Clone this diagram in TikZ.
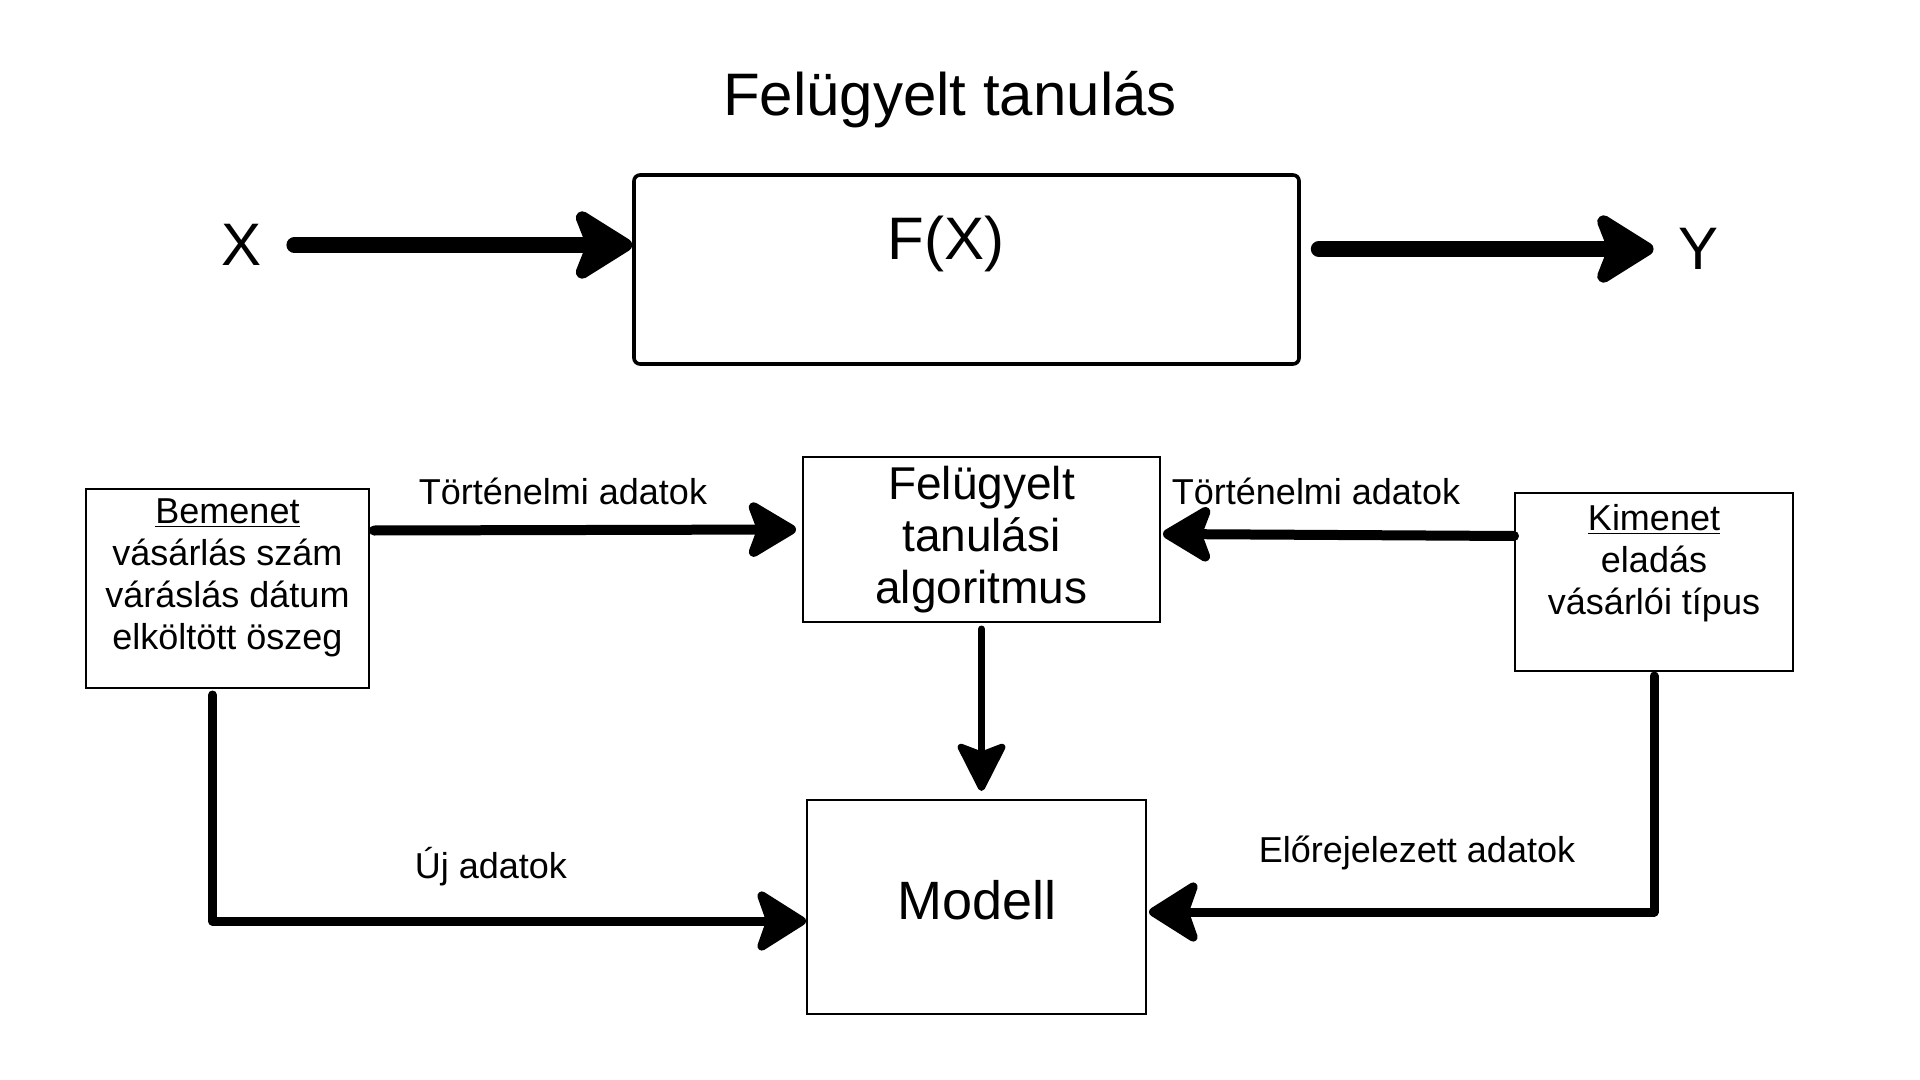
\documentclass[tikz,border=0pt]{standalone}
\usepackage{fontspec}
\setmainfont{Liberation Sans}
\usetikzlibrary{arrows.meta,calc}
\begin{document}
\begin{tikzpicture}[x=0.5pt,y=-0.5pt,
  box/.style={draw, line width=1pt, inner sep=0pt},
  big/.style={inner sep=0pt, font=\fontsize{30}{36}\selectfont},
  txt/.style={inner sep=0pt, align=center, font=\fontsize{18}{20.8}\selectfont},
  lbl/.style={inner sep=0pt, font=\fontsize{18}{21}\selectfont},
  bigarrow/.style={line width=8pt, line cap=round, -{Stealth[round, length=34pt, width=42pt, inset=8pt]}},
  midarrow/.style={line width=5pt, line cap=round, -{Stealth[round, length=28pt, width=33pt, inset=6pt]}},
  elbarrow/.style={line width=4.5pt, line cap=round, line join=round, -{Stealth[round, length=28pt, width=35pt, inset=6pt]}},
  vertarrow/.style={line width=3.5pt, line cap=round, -{Stealth[round, length=27pt, width=27pt, inset=5pt]}}
]
\fill[white] (0,0) rectangle (1920,1080);
\useasboundingbox (0,0) rectangle (1920,1080);

% top part
\node[big] (title) at (950,100) {Felügyelt tanulás};
\node[draw, line width=1.8pt, rounded corners=3pt, minimum width=332.5pt, minimum height=94.5pt, inner sep=0pt] (fbox) at (966.5,269.5) {};
\node[big] (fx) at (946,244) {F(X)};
\node[big] (xin) at (242,245) {X};
\node[big] (yout) at (1698,249) {Y};

\draw[bigarrow] ([xshift=16pt]xin.east) -- (fbox.west |- xin) ;
\draw[bigarrow, shorten >=12pt] ([xshift=9pt]fbox.east |- yout) -- (yout.west);

% bottom part
\node[box, minimum width=141.5pt, minimum height=99.5pt] (bem) at (227.5,588.5) {};
\node[txt, font=\fontsize{18}{21}\selectfont] (bemt) at (227.5,578) {\underline{Bemenet}\\vásárlás szám\\váráslás dátum\\elköltött öszeg};

\node[box, minimum width=178.5pt, minimum height=82.5pt, align=center, font=\fontsize{23}{26}\selectfont] (fel) at (981.5,539.5) {Felügyelt\\tanulási\\algoritmus};

\node[box, minimum width=139pt, minimum height=89pt] (kim) at (1654,582) {};
\node[txt, font=\fontsize{18}{21}\selectfont] (kimt) at (1654,563) {\underline{Kimenet}\\eladás\\vásárlói típus};

\node[box, minimum width=169.5pt, minimum height=107pt] (mod) at (976.5,907) {};
\node[inner sep=0pt, font=\fontsize{27}{32}\selectfont] (modt) at (977,900) {Modell};

\node[lbl] (l1) at (563,491) {Történelmi adatok};
\node[lbl] (l2) at (1316,491) {Történelmi adatok};
\node[lbl] (l3) at (491,867) {Új adatok};
\node[lbl] (l4) at (1417,853) {Előrejelezett adatok};

\draw[midarrow] ([xshift=2pt,yshift=29pt]bem.east) -- ([yshift=5pt,xshift=-3pt]fel.west);
\draw[midarrow] ([yshift=23pt]kim.west) -- ([yshift=2.75pt,xshift=1pt]fel.east);
\draw[vertarrow] ([yshift=-3pt]fel.south) -- ([yshift=4pt]fel.south |- mod.north);
\draw[elbarrow] ([xshift=-7.5pt,yshift=-3pt]bem.south) |- ([yshift=-7pt]mod.west);
\draw[elbarrow] ([yshift=-2pt]kim.south) |- ([yshift=-2.5pt,xshift=1pt]mod.east);
\end{tikzpicture}
\end{document}
